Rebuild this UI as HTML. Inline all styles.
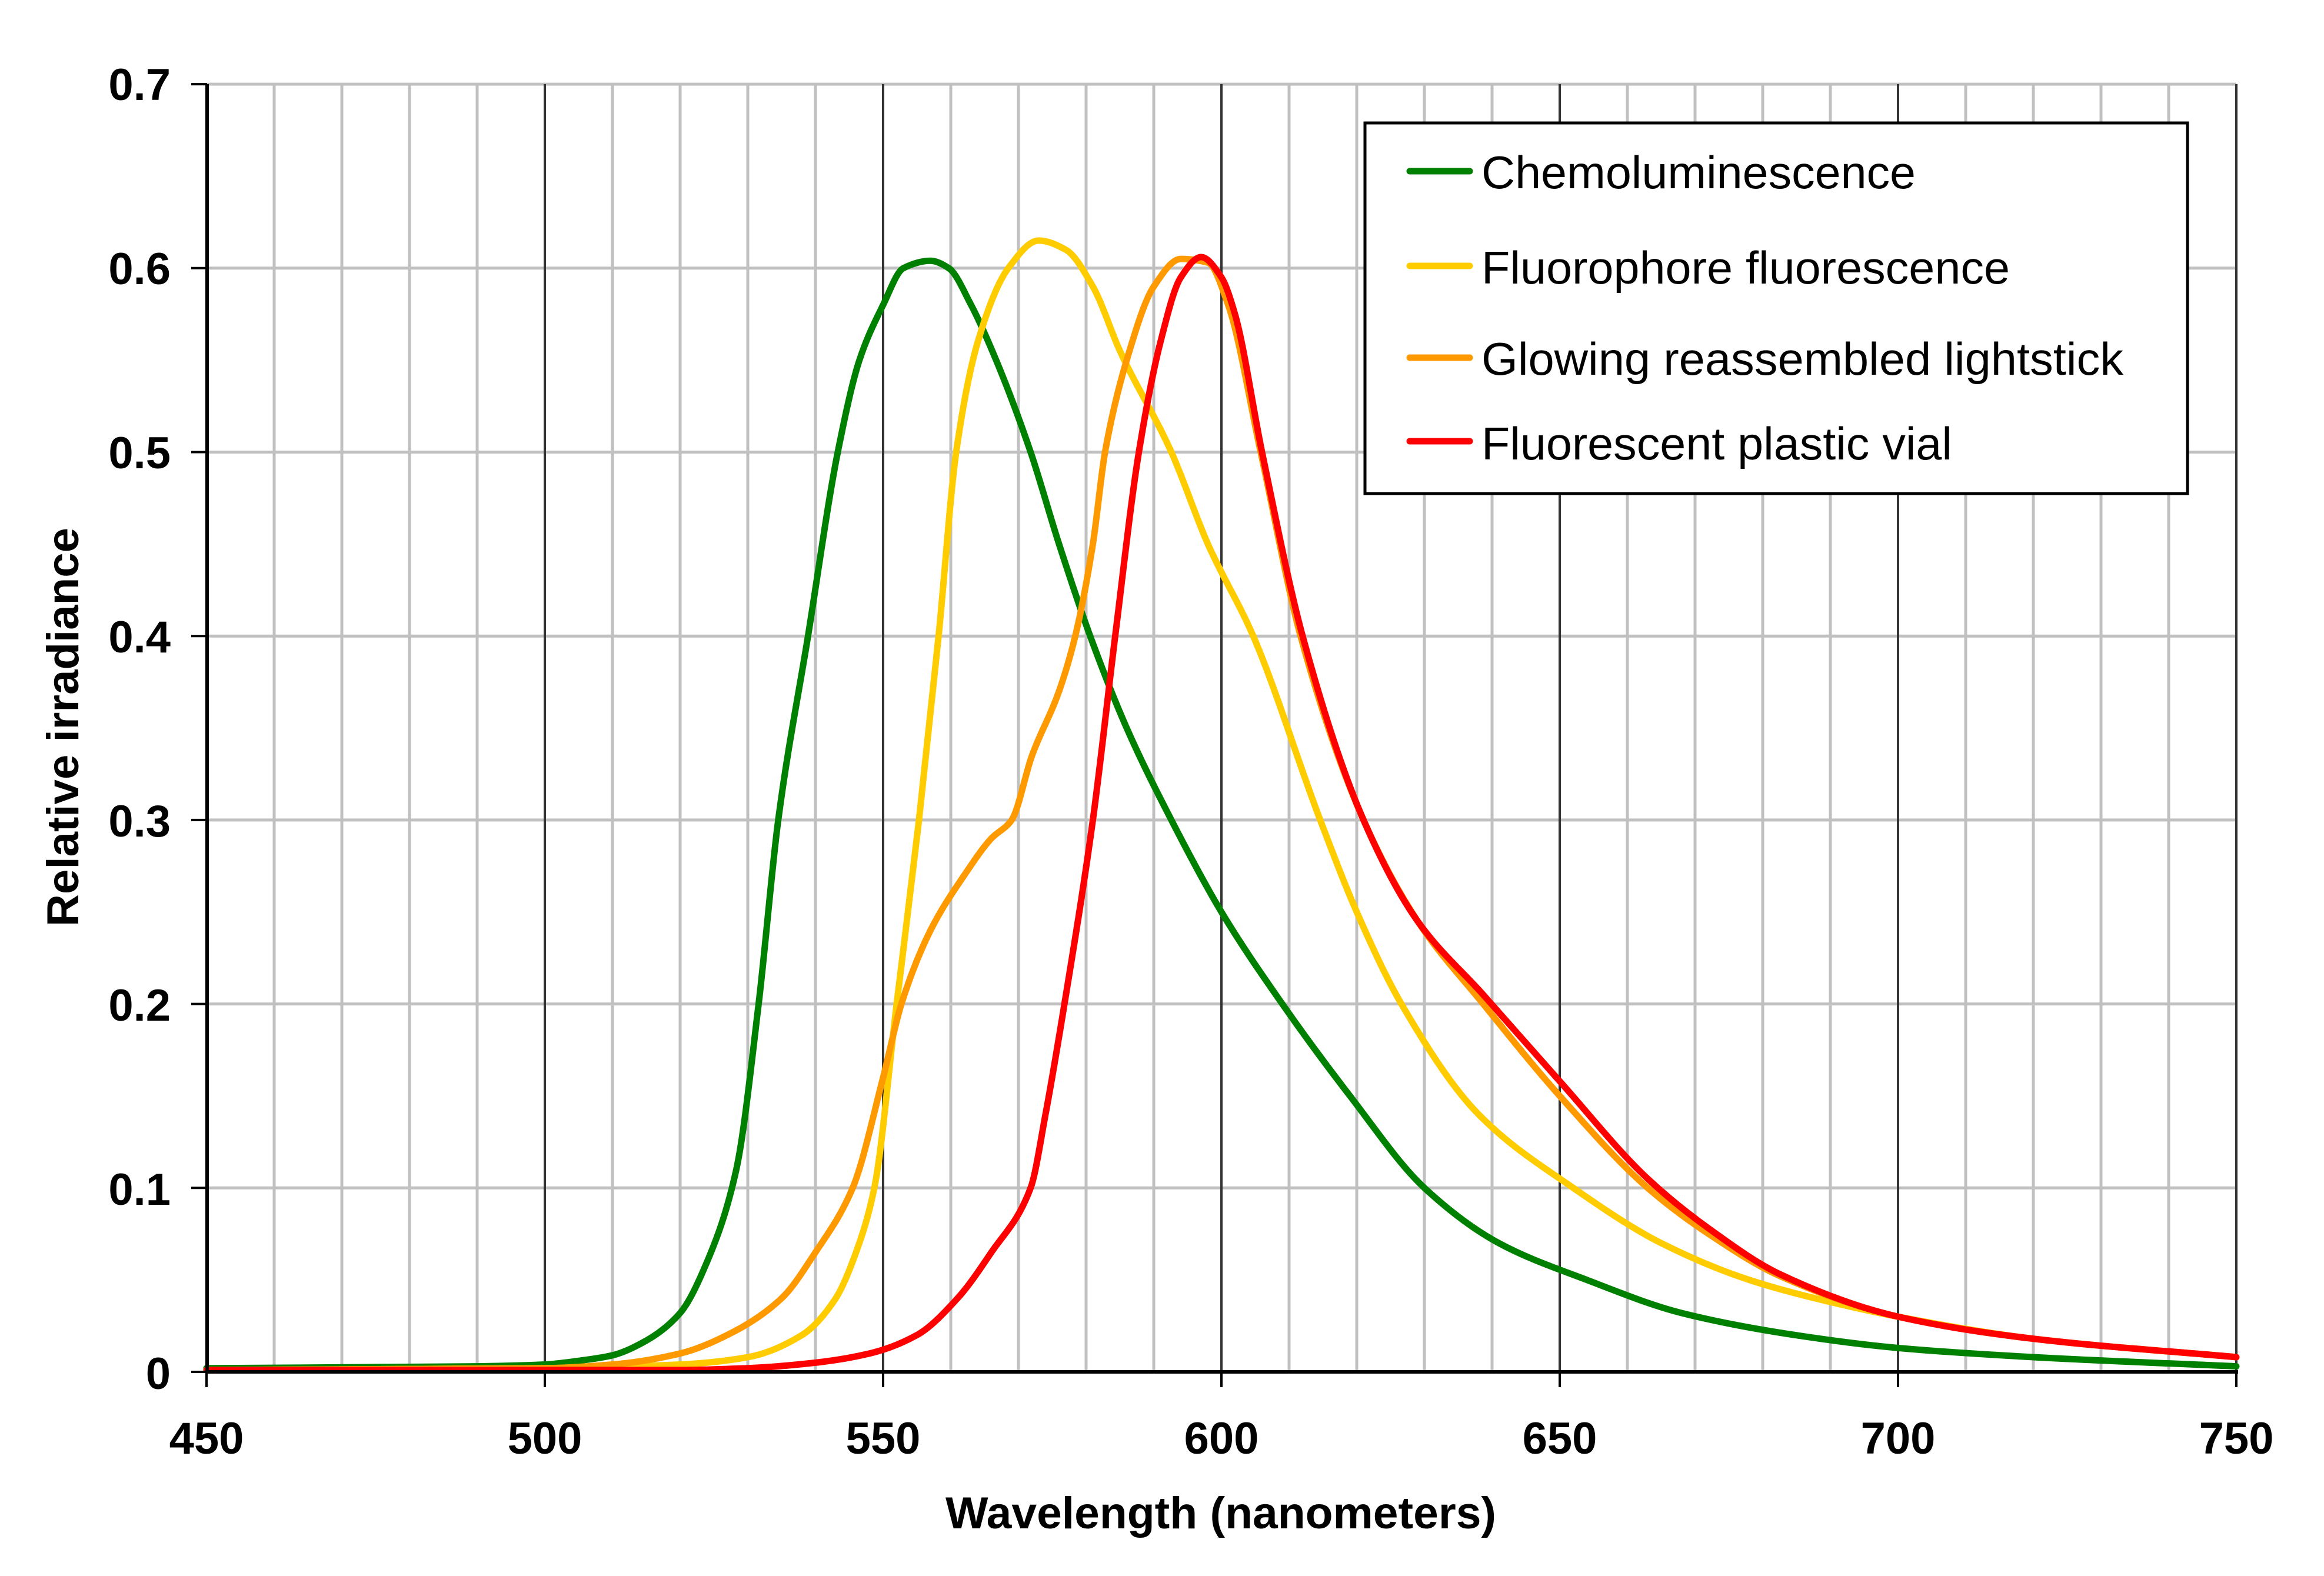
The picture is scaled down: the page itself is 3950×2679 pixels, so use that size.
<!DOCTYPE html>
<html><head><meta charset="utf-8"><style>html,body{margin:0;padding:0;background:#fff}svg{display:block}</style></head>
<body>
<svg id="s" width="3950" height="2679" viewBox="0 0 3950 2679" xmlns="http://www.w3.org/2000/svg">
<rect width="3950" height="2679" fill="#fff"/>
<g id="grid"></g>
<g id="curves" fill="none" stroke-width="11" stroke-linejoin="round" stroke-linecap="round"></g>
<line x1="352" y1="143" x2="352" y2="2334" stroke="#000" stroke-width="6"/>
<line x1="349" y1="2332" x2="3804" y2="2332" stroke="#000" stroke-width="6"/>
<g id="ticks" stroke="#000" stroke-width="4"></g>
<g font-family="Liberation Sans, Arial, sans-serif" font-weight="bold" font-size="76" fill="#000" text-anchor="end">
<text x="290" y="170">0.7</text><text x="290" y="483">0.6</text><text x="290" y="796">0.5</text>
<text x="290" y="1109">0.4</text><text x="290" y="1422">0.3</text><text x="290" y="1735">0.2</text>
<text x="290" y="2048">0.1</text><text x="290" y="2361">0</text>
</g>
<g font-family="Liberation Sans, Arial, sans-serif" font-weight="bold" font-size="76" fill="#000" text-anchor="middle">
<text x="351" y="2471">450</text><text x="926" y="2471">500</text><text x="1501" y="2471">550</text>
<text x="2076" y="2471">600</text><text x="2651" y="2471">650</text><text x="3226" y="2471">700</text>
<text x="3801" y="2471">750</text>
<text x="2075" y="2598" textLength="936" lengthAdjust="spacingAndGlyphs">Wavelength (nanometers)</text>
<text transform="translate(133,1236) rotate(-90)" textLength="678" lengthAdjust="spacingAndGlyphs">Relative irradiance</text>
</g>
<rect x="2320" y="209" width="1398" height="630" fill="#fff" stroke="#000" stroke-width="5"/>
<g stroke-width="11" stroke-linecap="round">
<line x1="2396" y1="291" x2="2498" y2="291" stroke="#008000"/>
<line x1="2396" y1="452" x2="2498" y2="452" stroke="#ffcc00"/>
<line x1="2396" y1="608" x2="2498" y2="608" stroke="#ff9900"/>
<line x1="2396" y1="750" x2="2498" y2="750" stroke="#ff0000"/>
</g>
<g font-family="Liberation Sans, Arial, sans-serif" font-size="78" fill="#000">
<text x="2518" y="320" textLength="738" lengthAdjust="spacingAndGlyphs">Chemoluminescence</text>
<text x="2518" y="482" textLength="898" lengthAdjust="spacingAndGlyphs">Fluorophore fluorescence</text>
<text x="2518" y="637" textLength="1091" lengthAdjust="spacingAndGlyphs">Glowing reassembled lightstick</text>
<text x="2518" y="781" textLength="800" lengthAdjust="spacingAndGlyphs">Fluorescent plastic vial</text>
</g>
</svg>
<script>
(function(){
var NS="http://www.w3.org/2000/svg";
function X(nm){return 351+(nm-450)*11.5;}
function Y(v){return 2332-v*3127;}
var grid=document.getElementById("grid"),ticks=document.getElementById("ticks");
function ln(g,x1,y1,x2,y2,st,w){var l=document.createElementNS(NS,"line");l.setAttribute("x1",x1);l.setAttribute("y1",y1);l.setAttribute("x2",x2);l.setAttribute("y2",y2);l.setAttribute("stroke",st);l.setAttribute("stroke-width",w);g.appendChild(l);}
for(var nm=460;nm<750;nm+=10){if(nm%50)ln(grid,X(nm),143,X(nm),2332,"#c0c0c0",5);}
for(var i=1;i<=7;i++){ln(grid,352,Y(i/10),3801,Y(i/10),"#c0c0c0",5);}
for(var nm=500;nm<=750;nm+=50){ln(grid,X(nm),143,X(nm),2332,"#333",4);}
for(var nm=450;nm<=750;nm+=50){ln(ticks,X(nm),2332,X(nm),2358,"#000",4);}
for(var i=0;i<=7;i++){ln(ticks,325,Y(i/10),352,Y(i/10),"#000",4);}
var S={
"#008000":[[450,0.002],[490,0.003],[500,0.004],[505,0.006],[510,0.009],[515,0.017],[520,0.032],[524,0.06],[528.3,0.11],[531.6,0.2],[534.5,0.3],[538.9,0.4],[543.3,0.5],[546.5,0.55],[550,0.58],[553,0.6],[557,0.604],[559.7,0.6],[563,0.58],[566.7,0.55],[571.8,0.5],[576,0.45],[580.6,0.4],[586,0.35],[592.6,0.3],[600,0.25],[609,0.2],[619,0.15],[630,0.1],[641,0.07],[654,0.05],[668,0.032],[684.8,0.02],[700,0.013],[720,0.008],[750,0.003]],
"#ffcc00":[[450,0.001],[500,0.002],[520,0.004],[530,0.008],[538,0.02],[543,0.04],[546,0.065],[548.7,0.1],[552,0.2],[555.3,0.3],[558.2,0.4],[560.8,0.5],[564,0.56],[568.5,0.6],[573,0.615],[577,0.61],[581,0.59],[585,0.555],[592.6,0.5],[598,0.45],[604.7,0.4],[614.6,0.3],[620,0.25],[626.6,0.2],[638,0.14],[652,0.1],[665,0.07],[678,0.05],[690,0.038],[700,0.03],[720,0.018],[750,0.008]],
"#ff9900":[[450,0.001],[500,0.002],[510,0.004],[520,0.01],[528,0.022],[535,0.04],[540,0.065],[545.5,0.1],[550,0.16],[552.7,0.2],[557,0.24],[562,0.27],[566,0.29],[569,0.3],[572,0.335],[576,0.37],[578.4,0.4],[581,0.45],[582.8,0.5],[586,0.55],[590,0.59],[594,0.605],[598,0.603],[601,0.58],[605.8,0.5],[611.7,0.4],[621,0.3],[629,0.245],[638.7,0.2],[650,0.15],[663,0.1],[672,0.075],[682.6,0.052],[700,0.03],[720,0.018],[750,0.008]],
"#ff0000":[[450,0.001],[520,0.001],[530,0.002],[540,0.005],[548,0.01],[555,0.02],[561,0.04],[566,0.065],[571.8,0.1],[574,0.14],[576.8,0.2],[581,0.3],[584.3,0.4],[587.8,0.5],[591,0.56],[594,0.595],[597,0.606],[600,0.595],[602,0.575],[606,0.5],[612,0.4],[621,0.3],[629,0.245],[638.7,0.205],[650,0.158],[663,0.105],[672,0.078],[682.6,0.053],[700,0.03],[720,0.018],[750,0.008]]
};
function mono(p){
 var n=p.length,xs=p.map(function(a){return a[0]}),ys=p.map(function(a){return a[1]});
 var d=[],m=[];
 for(var i=0;i<n-1;i++)d.push((ys[i+1]-ys[i])/(xs[i+1]-xs[i]));
 m[0]=d[0];m[n-1]=d[n-2];
 for(var i=1;i<n-1;i++){ if(d[i-1]*d[i]<=0)m[i]=0; else { var w1=2*(xs[i+1]-xs[i])+(xs[i]-xs[i-1]),w2=(xs[i+1]-xs[i])+2*(xs[i]-xs[i-1]); m[i]=(w1+w2)/(w1/d[i-1]+w2/d[i]); } }
 var out="M"+X(xs[0])+","+Y(ys[0]);
 for(var i=0;i<n-1;i++){var h=xs[i+1]-xs[i];
  out+=" C"+X(xs[i]+h/3)+","+Y(ys[i]+m[i]*h/3)+" "+X(xs[i+1]-h/3)+","+Y(ys[i+1]-m[i+1]*h/3)+" "+X(xs[i+1])+","+Y(ys[i+1]);}
 return out;
}
var g=document.getElementById("curves");
["#008000","#ffcc00","#ff9900","#ff0000"].forEach(function(c){
 var path=document.createElementNS(NS,"path");path.setAttribute("d",mono(S[c]));path.setAttribute("stroke",c);g.appendChild(path);
});
})();
</script>
</body></html>
